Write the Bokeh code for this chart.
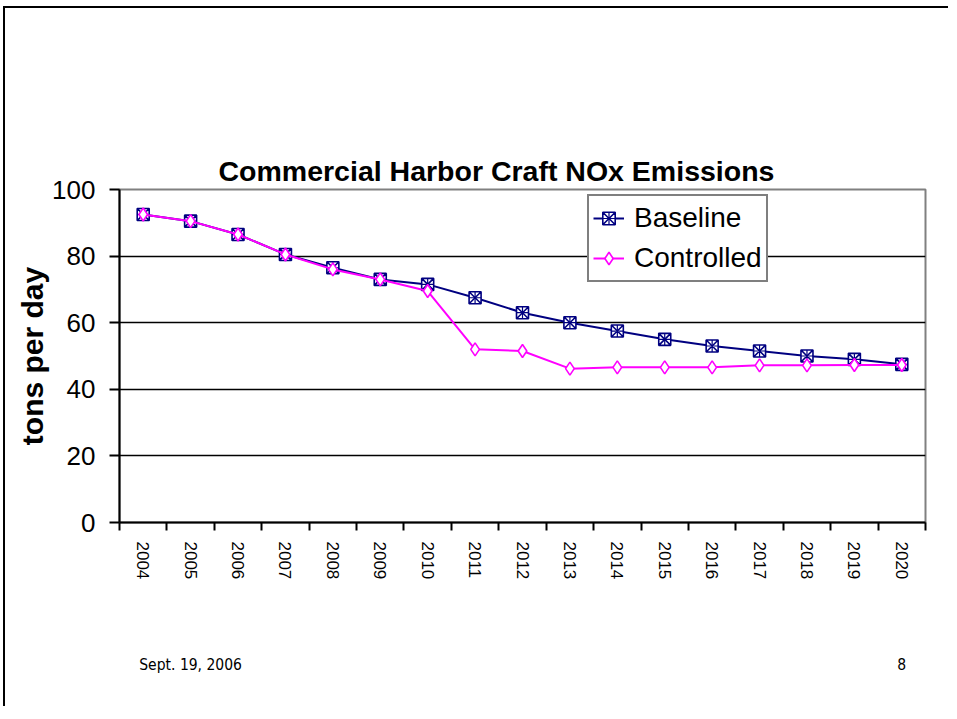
from bokeh.plotting import figure
from bokeh.models import Range1d, FixedTicker, Legend, LegendItem, LinearAxis
from bokeh.embed import file_html
from bokeh.resources import INLINE

# ---- data ----
years = ["2004", "2005", "2006", "2007", "2008", "2009", "2010", "2011", "2012",
         "2013", "2014", "2015", "2016", "2017", "2018", "2019", "2020"]
baseline = [92.5, 90.5, 86.5, 80.5, 76.5, 73.0, 71.5, 67.5, 63.0,
            60.0, 57.5, 55.0, 53.0, 51.5, 50.0, 49.0, 47.5]
controlled = [92.5, 90.5, 86.5, 80.5, 76.0, 73.0, 69.5, 52.0, 51.5,
              46.2, 46.6, 46.6, 46.6, 47.2, 47.2, 47.3, 47.3]
y_ticks = [0, 20, 40, 60, 80, 100]
grid_ticks = [20, 40, 60, 80]
title_text = "Commercial Harbor Craft NOx Emissions"
y_label = "tons per day"
series_names = ["Baseline", "Controlled"]
footer_date = "Sept. 19, 2006"
page_number = "8"

FONT = "Liberation Sans"
NARROW = "Liberation Sans Narrow, DejaVu Sans Condensed, sans-serif"
NAVY = "#000080"
MAGENTA = "#FF00FF"

n = len(years)
xs = list(range(n))

p = figure(width=945, height=700, output_backend="svg", toolbar_location=None,
           x_range=Range1d(-0.5, n - 0.5), y_range=Range1d(0, 100),
           min_border_left=114, min_border_right=25,
           min_border_top=181, min_border_bottom=186)
p.background_fill_color = "white"
p.border_fill_color = "white"
p.outline_line_color = "#808080"
p.outline_line_width = 2
p.styles = {"position": "relative", "left": "5px", "top": "8px",
            "box-shadow": "-2px -2px 0px 0px black"}

# title
p.title.text = title_text
p.title.align = "left"
p.title.offset = 99
p.title.text_font = FONT
p.title.text_font_style = "bold"
p.title.text_font_size = "28.5px"
p.title.text_color = "black"
p.title.standoff = 5

# grid
p.xgrid.visible = False
p.ygrid.ticker = FixedTicker(ticks=grid_ticks)
p.ygrid.grid_line_color = "black"
p.ygrid.grid_line_width = 1.5

# y axis
ya = p.yaxis[0]
ya.ticker = FixedTicker(ticks=y_ticks)
ya.axis_line_color = "black"
ya.axis_line_width = 2
ya.major_tick_line_width = 2
ya.major_tick_out = 10
ya.major_tick_in = 0
ya.minor_tick_out = 0
ya.minor_tick_in = 0
ya.major_label_text_font = FONT
ya.major_label_text_font_size = "26px"
ya.major_label_text_color = "black"
ya.major_label_standoff = 14
ya.axis_label = y_label
ya.axis_label_text_font = FONT
ya.axis_label_text_font_style = "bold"
ya.axis_label_text_font_size = "30px"
ya.axis_label_text_color = "black"
ya.axis_label_standoff = 0

# x axis
xa = p.xaxis[0]
xa.ticker = FixedTicker(ticks=xs, minor_ticks=[i - 0.5 for i in range(n + 1)])
xa.major_label_overrides = {i: years[i] for i in xs}
xa.major_label_orientation = "vertical"
xa.axis_line_color = "black"
xa.axis_line_width = 2
xa.major_tick_out = 0
xa.major_tick_in = 0
xa.minor_tick_out = 8
xa.minor_tick_in = 0
xa.minor_tick_line_color = "black"
xa.minor_tick_line_width = 2
xa.major_label_text_font = FONT
xa.major_label_text_font_size = "17px"
xa.major_label_text_color = "black"
xa.major_label_standoff = 11

# footer, drawn as a bare axis below the year axis
foot = LinearAxis(ticker=FixedTicker(ticks=[1, 16], minor_ticks=[]),
                  major_label_overrides={1: footer_date, 16: page_number})
foot.axis_line_color = None
foot.major_tick_line_color = None
foot.minor_tick_line_color = None
foot.major_tick_out = 0
foot.major_tick_in = 0
foot.major_label_text_font = NARROW
foot.major_label_text_font_size = "15.5px"
foot.major_label_text_color = "black"
foot.major_label_standoff = 73
p.add_layout(foot, "below")

# series
bl_line = p.line(xs, baseline, line_color=NAVY, line_width=2)
bl_sq = p.scatter(xs, baseline, marker="square_x", size=12, line_color=NAVY,
                  fill_color="white", line_width=1.6)
bl_cr = p.scatter(xs, baseline, marker="cross", size=12, line_color=NAVY,
                  line_width=1.2)
c_line = p.line(xs, controlled, line_color=MAGENTA, line_width=2)
c_dia = p.scatter(xs, controlled, marker="diamond", size=13,
                  line_color=MAGENTA, fill_color="white", line_width=1.6)

legend = Legend(items=[LegendItem(label=series_names[0], renderers=[bl_line, bl_sq, bl_cr]),
                       LegendItem(label=series_names[1], renderers=[c_line, c_dia])],
                location=(468, 240))
legend.border_line_color = "black"
legend.border_line_width = 2
legend.background_fill_color = "white"
legend.background_fill_alpha = 1
legend.label_text_font = FONT
legend.label_text_font_size = "28px"
legend.label_text_color = "black"
legend.glyph_width = 31
legend.glyph_height = 36
legend.label_height = 36
legend.label_standoff = 10
legend.padding = 4
legend.spacing = 4
legend.margin = 0
p.add_layout(legend)

open("out.html", "w").write(file_html(p, INLINE))
